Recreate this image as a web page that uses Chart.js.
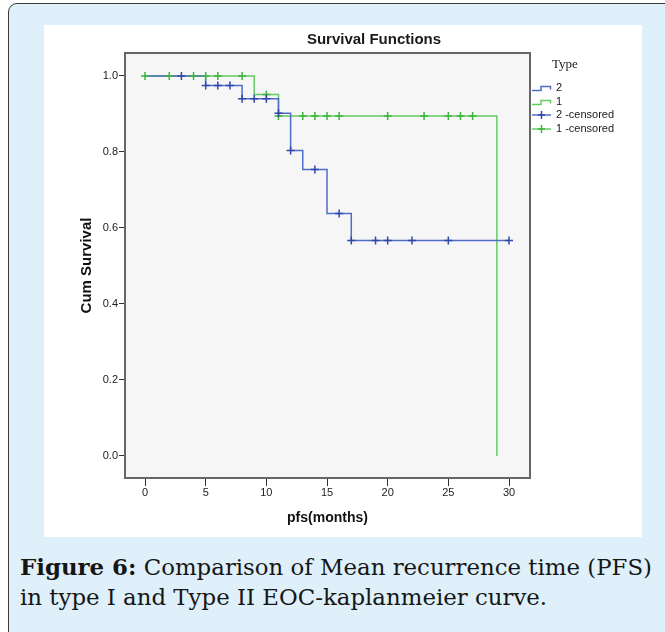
<!DOCTYPE html>
<html>
<head>
<meta charset="utf-8">
<script src="https://cdn.jsdelivr.net/npm/chart.js@4.4.0/dist/chart.umd.min.js"></script>
<style>
html,body{margin:0;padding:0;width:665px;height:632px;overflow:hidden;background:#fff;}
#outer{position:absolute;left:8px;top:3px;width:690px;height:680px;border:1.5px solid #3a3a3a;border-radius:9px;background:#dff0fa;box-sizing:border-box;}
#panel{position:absolute;left:44px;top:25px;width:598px;height:512px;background:#fff;}
#chart{position:absolute;left:44px;top:25px;}
#caption{position:absolute;left:20px;top:553px;font-family:'DejaVu Serif',serif;font-size:20px;line-height:29.5px;color:#161616;white-space:nowrap;}
#caption b{font-weight:bold;}
</style>
</head>
<body>
<div id="outer"></div>
<div id="panel"></div>
<canvas id="chart" width="598" height="512"></canvas>
<div id="caption"><span id="l1"><b>Figure 6:</b> Comparison of Mean recurrence time (PFS)</span><br>in type I and Type II EOC-kaplanmeier curve.</div>
<script>
// ---- data ----
const xTickValues = [0, 5, 10, 15, 20, 25, 30];
const yTickValues = [0.0, 0.2, 0.4, 0.6, 0.8, 1.0];

const type2Times = [0, 5, 8, 11, 12, 13, 15, 17, 30];
const type2Surv  = [1.0, 0.975, 0.940, 0.902, 0.804, 0.754, 0.638, 0.567, 0.567];

const type1Times = [0, 9, 11, 29];
const type1Surv  = [1.0, 0.951, 0.895, 0.0];

const type2CensTimes = [3, 5, 6, 7, 8, 9, 10, 11, 12, 14, 16, 17, 19, 20, 22, 25, 30];
const type2CensSurv  = [1.0, 0.975, 0.975, 0.975, 0.940, 0.940, 0.940, 0.902, 0.804, 0.754, 0.638, 0.567, 0.567, 0.567, 0.567, 0.567, 0.567];

const type1CensTimes = [0, 2, 4, 5, 6, 8, 10, 11, 13, 14, 15, 16, 20, 23, 25, 26, 27];
const type1CensSurv  = [1.0, 1.0, 1.0, 1.0, 1.0, 1.0, 0.951, 0.895, 0.895, 0.895, 0.895, 0.895, 0.895, 0.895, 0.895, 0.895, 0.895];

const legendLabels = ['2', '1', '2 -censored', '1 -censored'];
const legendTitle = 'Type';
const chartTitle = 'Survival Functions';
const xTitle = 'pfs(months)';
const yTitle = 'Cum Survival';

// ---- styles ----
const BLUE = '#4f6cc6';
const BLUE_MARK = '#3049a8';
const GREEN = '#63cc63';
const GREEN_MARK = '#3fb53f';

const pts = (xs, ys) => xs.map((x, i) => ({x: x, y: ys[i]}));

const framePlugin = {
  id: 'frame',
  beforeDatasetsDraw(chart) {
    const {ctx, chartArea: a} = chart;
    ctx.save();
    ctx.fillStyle = '#f6f6f6';
    ctx.fillRect(a.left, a.top, a.right - a.left, a.bottom - a.top);
    ctx.strokeStyle = '#666';
    ctx.lineWidth = 2;
    ctx.strokeRect(a.left, a.top, a.right - a.left, a.bottom - a.top);
    ctx.restore();
  }
};

const decorPlugin = {
  id: 'decor',
  afterDraw(chart) {
    const ctx = chart.ctx;
    ctx.save();
    // title
    ctx.fillStyle = '#1a1a1a';
    ctx.font = 'bold 15px "Liberation Sans", Arial, sans-serif';
    ctx.textAlign = 'center';
    ctx.textBaseline = 'middle';
    ctx.fillText(chartTitle, 330, 15);
    // legend title
    ctx.font = '13px "Liberation Serif", "Times New Roman", serif';
    ctx.textAlign = 'left';
    ctx.fillText(legendTitle, 508, 40);
    // legend items
    const rows = [63, 77, 90, 104];
    const colors = [BLUE, GREEN, BLUE_MARK, GREEN_MARK];
    const lineCols = [BLUE, GREEN, BLUE, GREEN];
    ctx.font = '11px "Liberation Sans", Arial, sans-serif';
    rows.forEach((y, i) => {
      ctx.strokeStyle = lineCols[i];
      ctx.lineWidth = 1.5;
      ctx.beginPath();
      if (i < 2) {
        ctx.moveTo(488, y + 2.5);
        ctx.lineTo(497, y + 2.5);
        ctx.lineTo(497, y - 1.5);
        ctx.lineTo(506.5, y - 1.5);
        ctx.lineTo(506.5, y + 1.5);
        ctx.stroke();
      } else {
        ctx.moveTo(488, y);
        ctx.lineTo(507, y);
        ctx.stroke();
        ctx.strokeStyle = colors[i];
        ctx.beginPath();
        ctx.moveTo(497.5, y - 4);
        ctx.lineTo(497.5, y + 4);
        ctx.moveTo(494, y);
        ctx.lineTo(501, y);
        ctx.stroke();
      }
      ctx.fillStyle = '#1a1a1a';
      ctx.fillText(legendLabels[i], 512, y);
    });
    ctx.restore();
  }
};

const lineDs = (label, data, color) => ({
  label, data, showLine: true, stepped: 'before', borderColor: color,
  borderWidth: 1.5, pointRadius: 0, fill: false, order: 2
});
const markDs = (label, data, color) => ({
  label, data, showLine: false, pointStyle: 'cross', pointRadius: 4,
  pointBorderWidth: 1.5, borderColor: color, pointBorderColor: color,
  backgroundColor: color, order: 1
});

new Chart(document.getElementById('chart'), {
  type: 'scatter',
  data: {
    datasets: [
      lineDs(legendLabels[0], pts(type2Times, type2Surv), BLUE),
      lineDs(legendLabels[1], pts(type1Times, type1Surv), GREEN),
      markDs(legendLabels[2], pts(type2CensTimes, type2CensSurv), BLUE_MARK),
      markDs(legendLabels[3], pts(type1CensTimes, type1CensSurv), GREEN_MARK)
    ]
  },
  options: {
    responsive: false,
    animation: false,
    devicePixelRatio: 1,
    layout: {padding: {top: 28, left: 0, right: 112, bottom: 0}},
    plugins: {legend: {display: false}, tooltip: {enabled: false}, title: {display: false}},
    scales: {
      x: {
        type: 'linear', min: -1.65, max: 31.73,
        afterFit(s) { s.height = 59; },
        afterBuildTicks(s) { s.ticks = xTickValues.map(v => ({value: v})); },
        border: {display: false},
        grid: {drawOnChartArea: false, drawTicks: true, tickLength: 8, tickColor: '#333', tickWidth: 1},
        ticks: {color: '#222', padding: 0, maxRotation: 0, autoSkip: false,
          font: {family: '"Liberation Sans", Arial, sans-serif', size: 11},
          callback: v => String(v)},
        title: {display: true, text: xTitle, color: '#111',
          font: {family: '"Liberation Sans", Arial, sans-serif', size: 14, weight: 'bold'},
          padding: {top: 0, bottom: 10.6}}
      },
      y: {
        type: 'linear', min: -0.058, max: 1.0605,
        afterFit(s) { s.width = 81; },
        afterBuildTicks(s) { s.ticks = yTickValues.map(v => ({value: v})); },
        border: {display: false},
        grid: {drawOnChartArea: false, drawTicks: true, tickLength: 6, tickColor: '#333', tickWidth: 1},
        ticks: {color: '#222', padding: 1, autoSkip: false,
          font: {family: '"Liberation Sans", Arial, sans-serif', size: 11},
          callback: v => Number(v).toFixed(1)},
        title: {display: true, text: yTitle, color: '#111',
          font: {family: '"Liberation Sans", Arial, sans-serif', size: 15, weight: 'bold'},
          padding: {top: 34, bottom: 0}}
      }
    }
  },
  plugins: [framePlugin, decorPlugin]
});

// fit caption width to the reference line width
(function () {
  const cap = document.getElementById('caption');
  const l1 = document.getElementById('l1');
  const w = l1.getBoundingClientRect().width;
  const fs = 20 * 632 / w;
  cap.style.fontSize = fs.toFixed(2) + 'px';
})();
</script>
</body>
</html>
